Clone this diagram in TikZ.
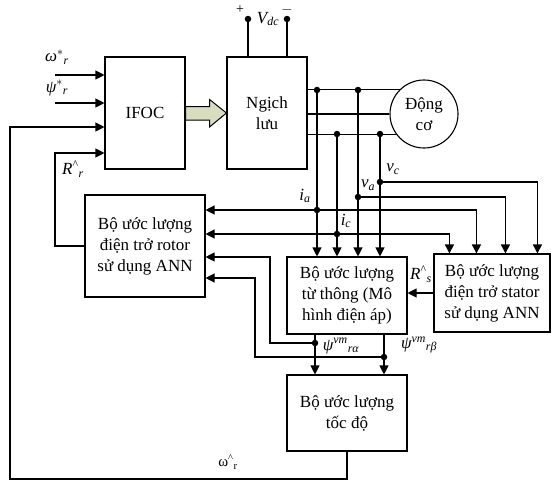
\documentclass[tikz,border=0pt]{standalone}
\usepackage{amsmath}
\usepackage{fontspec}
\setmainfont{Liberation Serif}
\usetikzlibrary{arrows.meta,calc}
\definecolor{fatfill}{RGB}{215,221,190}
\newcommand\lblit[1]{\text{\itshape #1}}
\newcommand\lblup[1]{\text{\upshape #1}}
\begin{document}
\begin{tikzpicture}[x=1pt,y=-1pt,
  every node/.style={font=\fontsize{17}{21}\selectfont},
  blk/.style={draw, line width=1.1pt, align=center, inner sep=0pt, rectangle},
  ln/.style={line width=1.1pt},
  arr/.style={ln, -{Triangle[length=9pt,width=9pt]}},
  lbl/.style={inner sep=0pt},
  jdot/.style={circle, fill, inner sep=0pt, minimum size=6.5pt},
]
\useasboundingbox (0,0) rectangle (552,482);

% blocks
\node[blk, minimum width=80pt, minimum height=112pt] (ifoc) at (145,113) {IFOC};
\node[blk, minimum width=80pt, minimum height=112pt] (inv) at (267,113) {Ngịch\\lưu};
\node[draw, circle, line width=1.1pt, minimum size=68pt, inner sep=0pt, align=center] (motor) at (424,114) {Động\\cơ};
\node[blk, minimum width=120pt, minimum height=102pt] (rotor) at (145,246) {Bộ ước lượng\\điện trở rotor\\sử dụng ANN};
\node[blk, minimum width=120pt, minimum height=77pt] (flux) at (347,295.5) {Bộ ước lượng\\từ thông (Mô\\hình điện áp)};
\node[blk, minimum width=116pt, minimum height=78pt] (stator) at (492,293) {Bộ ước lượng\\điện trở stator\\sử dụng ANN};
\node[blk, minimum width=120pt, minimum height=76pt] (speed) at (347,413) {Bộ ước lượng\\tốc độ};

% fat arrow IFOC -> inverter
\draw[line width=1pt, fill=fatfill] ($(ifoc.east)+(0,-6.5)$) -- ++(24,0) -- ++(0,-7) -- (inv.west)
  -- ($(ifoc.east)+(24,14)$) -- ++(0,-7) -- ($(ifoc.east)+(0,7)$) -- cycle;

% DC supply
\coordinate (vp) at (248,19);
\coordinate (vm) at (287,19);
\draw[ln] (vp) -- (vp |- inv.north);
\draw[ln] (vm) -- (vm |- inv.north);
\node[jdot] (vpd) at (vp) {};
\node[jdot] (vmd) at (vm) {};
\node[lbl, font=\fontsize{14}{16}\selectfont] (plus) at (240,10) {+};
\node[lbl, font=\fontsize{14}{16}\selectfont] (minus) at (287,10) {$-$};
\node[lbl] (vdc) at (268,19) {$\lblit{V}_{\lblit{dc}}$};

% phase lines
\draw[ln] (inv.east |- motor.135) -- (motor.135);
\draw[ln] (inv.east |- motor.west) -- (motor.west);
\draw[ln] (inv.east |- motor.216) -- (motor.216);

% taps
\coordinate (ia0) at (317,90);
\coordinate (va0) at (358,90);
\coordinate (ic0) at (337,134);
\coordinate (vc0) at (380,134);
\coordinate (ia1) at (317,210);
\coordinate (ic1) at (337,234);
\coordinate (va1) at (358,197);
\coordinate (vc1) at (380,182);

\draw[arr] (ia0) -- (ia0 |- flux.north);
\draw[arr] (ic0) -- (ic0 |- flux.north);
\draw[arr] (va0) -- (va0 |- flux.north);
\draw[arr] (vc0) -- (vc0 |- flux.north);

\draw[arr] (ia1) -- (ia1 -| rotor.east);
\draw[arr] (ic1) -- (ic1 -| rotor.east);

\draw[arr] (ic1) -| ([xshift=16pt]stator.north west);
\draw[arr] (ia1) -| ([xshift=43pt]stator.north west);
\draw[arr] (va1) -| ([xshift=72pt]stator.north west);
\draw[arr] (vc1) -| ([xshift=104pt]stator.north west);

\foreach \p in {ia0,va0,ic0,vc0,ia1,ic1,va1,vc1} \node[jdot] at (\p) {};

\node[lbl] (lia) at (305,196) {$\lblit{i}_{\lblit{a}}$};
\node[lbl] (lic) at (346,221) {$\lblit{i}_{\lblit{c}}$};
\node[lbl] (lva) at (368,185) {$\lblit{v}_{\lblit{a}}$};
\node[lbl] (lvc) at (393,169) {$\lblit{v}_{\lblit{c}}$};

% stator resistance -> flux
\draw[arr] (stator.west) -- (stator.west -| flux.east);
\node[lbl] (lrs) at (421,274) {$\lblit{R}^{\text{\^{}}}{}_{\lblit{s}}$};

% flux outputs
\coordinate (pra) at (315,343);
\coordinate (prb) at (384,357);
\draw[arr] (pra |- flux.south) -- (pra |- speed.north);
\draw[arr] (prb |- flux.south) -- (prb |- speed.north);
\coordinate (ra1) at (270,343);
\coordinate (ra2) at (270,257);
\coordinate (rb1) at (255,357);
\coordinate (rb2) at (255,278);
\draw[arr] (pra) -- (ra1) -- (ra2) -- (ra2 -| rotor.east);
\draw[arr] (prb) -- (rb1) -- (rb2) -- (rb2 -| rotor.east);
\node[jdot] at (pra) {};
\node[jdot] at (prb) {};
\node[lbl] (lpa) at (341,346) {$\lblit{ψ}^{\lblit{vm}}{}_{\lblit{rα}}$};
\node[lbl] (lpb) at (419,345) {$\lblit{ψ}^{\lblit{vm}}{}_{\lblit{rβ}}$};

% speed feedback
\coordinate (w1) at (347,479);
\coordinate (w2) at (10,479);
\coordinate (w3) at (10,127);
\draw[arr] (speed.south) -- (w1) -- (w2) -- (w3) -- (w3 -| ifoc.west);
\node[lbl] (lw) at (228,462) {\fontsize{15}{18}\selectfont $\lblup{ω}^{\text{\^{}}}{}_{\lblup{r}}$};

% rotor resistance feedback
\coordinate (r1) at (55,246);
\coordinate (r2) at (55,153);
\draw[arr] (rotor.west) -- (r1) -- (r2) -- (r2 -| ifoc.west);
\node[lbl] (lrr) at (73,169) {$\lblit{R}^{\text{\^{}}}{}_{\lblit{r}}$};

% references
\coordinate (in1) at (55,75);
\coordinate (in2) at (55,103);
\draw[arr] (in1) -- (in1 -| ifoc.west);
\draw[arr] (in2) -- (in2 -| ifoc.west);
\node[lbl] (lw1) at (57,57) {$\lblit{ω}^{*}{}_{\lblit{r}}$};
\node[lbl] (lp1) at (57,88) {$\lblit{ψ}^{*}{}_{\lblit{r}}$};
\end{tikzpicture}
\end{document}
